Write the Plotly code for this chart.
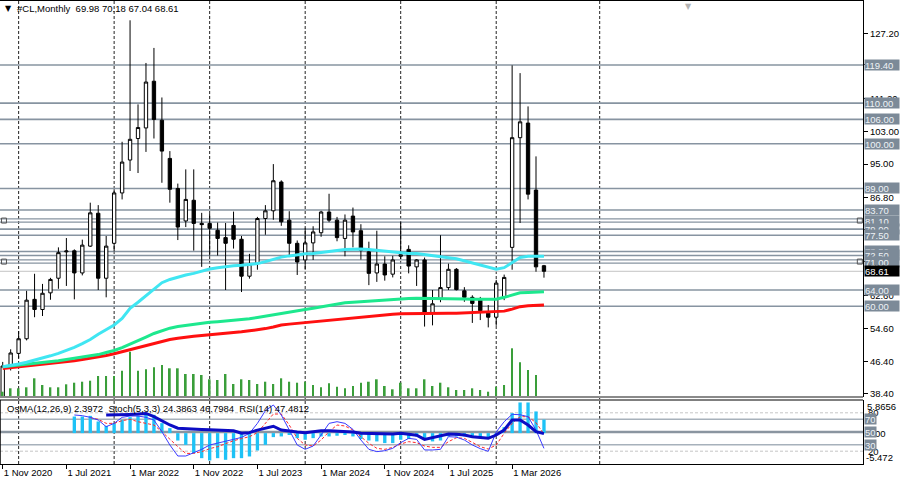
import plotly.graph_objects as go
import pandas as pd

# ---------------- data ----------------
MONTHS = pd.period_range("2020-11", "2026-07", freq="M").strftime("%Y-%m").tolist()

OPEN = [35.8, 45.3, 48.4, 52.0, 61.7, 59.2, 63.3, 66.9, 73.4, 73.65,
        68.2, 74.8, 82.9, 66.9, 75.5, 87.9, 96.0, 101.3, 103.9, 115.4,
        105.8, 96.4, 89.0, 81.0, 86.1, 80.4, 80.4, 78.7, 76.9, 79.9,
        76.5, 67.4, 70.5, 81.6, 83.5, 90.6, 81.2, 75.5, 71.4, 75.6,
        78.1, 83.2, 81.2, 76.7, 82.2, 78.6, 73.4, 68.2, 70.4, 67.9,
        72.3, 74.0, 69.7, 71.4, 58.4, 61.9, 64.6, 69.1, 63.8, 62.2,
        61.5, 58.3, 57.3, 62.3, 74.5, 101.5, 105.1, 88.6, 69.98]
HIGH = [46.3, 49.4, 53.9, 63.8, 68.0, 65.5, 67.0, 74.5, 76.8, 74.0,
        76.4, 85.5, 84.9, 77.3, 88.8, 100.5, 130.4, 109.7, 119.9, 123.6,
        111.4, 98.2, 90.2, 93.7, 93.7, 83.0, 82.7, 80.6, 80.5, 83.3,
        77.3, 72.9, 82.0, 84.9, 95.0, 91.0, 83.4, 76.2, 79.3, 79.7,
        83.5, 87.7, 82.0, 82.6, 84.3, 80.2, 75.9, 78.6, 72.3, 72.4,
        80.8, 75.0, 71.6, 72.0, 64.0, 77.5, 70.5, 69.4, 64.7, 62.7,
        62.3, 60.3, 66.5, 67.8, 119.3, 117.4, 109.2, 96.9, 70.18]
LOW = [33.6, 44.2, 47.2, 51.6, 57.3, 57.6, 61.6, 64.3, 65.0, 61.7,
       67.6, 74.6, 64.0, 62.2, 73.5, 86.3, 93.3, 92.8, 98.0, 101.3,
       90.4, 85.5, 76.3, 79.5, 73.7, 69.7, 72.5, 72.5, 64.0, 74.2,
       63.5, 66.8, 69.0, 77.6, 81.3, 79.8, 72.2, 67.7, 69.0, 71.4,
       77.1, 80.7, 76.0, 72.3, 74.5, 71.5, 65.2, 66.0, 66.3, 67.1,
       71.6, 68.1, 65.0, 55.0, 55.3, 61.0, 64.0, 63.9, 61.1, 55.9,
       56.6, 54.8, 55.2, 61.5, 69.0, 80.5, 86.3, 68.5, 67.04]
CLOSE = [45.3, 48.5, 52.0, 61.5, 59.2, 63.2, 66.6, 73.2, 73.6, 68.2,
         75.05, 83.0, 66.9, 74.8, 87.9, 95.5, 101.1, 104.0, 115.2, 106.0,
         98.2, 88.8, 79.5, 86.3, 80.4, 80.1, 79.2, 76.7, 75.5, 76.5,
         67.4, 70.4, 81.6, 83.5, 90.9, 80.8, 75.5, 70.9, 75.6, 78.3,
         83.2, 81.2, 76.9, 81.2, 78.3, 73.8, 68.1, 70.4, 67.7, 71.4,
         72.7, 69.9, 71.4, 58.3, 60.6, 64.6, 69.1, 64.1, 62.2, 60.7,
         58.9, 57.3, 65.7, 67.1, 101.5, 105.4, 87.6, 69.7, 68.61]

MA_CYAN = [45.1, 45.4, 45.8, 46.2, 46.7, 47.2, 47.8, 48.4, 49.1, 49.9,
           50.8, 51.8, 53.1, 54.3, 55.4, 57.0, 59.5, 61.0, 62.6, 64.4,
           65.8, 66.6, 67.2, 67.7, 68.1, 68.7, 69.15, 69.5, 69.8, 70.0,
           70.1, 70.3, 70.5, 71.0, 71.5, 72.1, 72.4, 72.7, 72.9, 73.0,
           73.3, 73.5, 73.75, 74.0, 74.1, 74.1, 74.0, 73.8, 73.5, 73.3,
           73.1, 73.0, 73.0, 72.7, 72.4, 72.2, 71.95, 71.7, 71.2, 70.7,
           70.1, 69.6, 69.1, 69.5, 70.7, 72.0, 72.3, 72.3, 72.3]
MA_GREEN = [45.1, 45.3, 45.5, 45.7, 45.9, 46.1, 46.3, 46.6, 46.9, 47.2,
            47.5, 47.8, 48.1, 48.6, 49.1, 49.8, 50.6, 51.5, 52.4, 53.3,
            54.0, 54.6, 55.0, 55.3, 55.6, 55.85, 56.05, 56.2, 56.35, 56.5,
            56.65, 56.95, 57.25, 57.6, 57.95, 58.3, 58.6, 58.9, 59.2, 59.5,
            59.85, 60.2, 60.5, 60.85, 61.0, 61.15, 61.3, 61.45, 61.6, 61.7,
            61.8, 61.9, 61.95, 61.95, 61.9, 61.9, 61.9, 61.85, 61.8, 61.75,
            61.7, 61.7, 61.75, 62.2, 62.8, 63.3, 63.4, 63.5, 63.55]
MA_RED = [44.7, 44.9, 45.1, 45.3, 45.5, 45.7, 45.9, 46.1, 46.3, 46.6,
          46.9, 47.2, 47.5, 47.9, 48.3, 48.8, 49.4, 49.9, 50.4, 50.9,
          51.4, 51.8, 52.1, 52.4, 52.6, 52.8, 52.95, 53.1, 53.3, 53.5,
          53.7, 53.95, 54.2, 54.5, 54.9, 55.4, 55.6, 55.8, 56.0, 56.2,
          56.4, 56.6, 56.8, 57.0, 57.2, 57.4, 57.6, 57.8, 57.95, 58.05,
          58.15, 58.2, 58.25, 58.25, 58.3, 58.3, 58.3, 58.3, 58.4, 58.5,
          58.6, 58.7, 58.75, 58.8, 59.3, 59.9, 60.1, 60.2, 60.3]

VOLUME = [212, 348, 348, 388, 748, 480, 388, 388, 508, 572,
          612, 652, 840, 840, 840, 1052, 1812, 1052, 1108, 1188,
          1280, 1148, 1148, 920, 920, 880, 708, 680, 920, 520,
          708, 680, 520, 612, 520, 748, 612, 572, 612, 480,
          388, 548, 412, 348, 440, 572, 612, 708, 440, 308,
          572, 348, 348, 708, 440, 572, 388, 280, 280, 348,
          280, 212, 412, 480, 1948, 1388, 1080, 880, 40]

OSMA = [None] * 9 + [
    2.94, 2.94, 3.06, 2.06, 1.29, 1.77, 2.36, 2.83, 3.06, 3.42,
    3.24, 1.77, 0.88, -1.31, -2.08, -3.56, -4.44, -4.85, -4.44, -4.73,
    -4.44, -4.44, -4.14, -3.08, -2.08, -0.71, -0.59, -0.30, -0.89, -1.18,
    -0.89, -0.59, -0.59, -0.47, -0.30, -0.59, -1.06, -1.31, -1.47, -1.77,
    -1.77, -1.18, -1.06, -0.59, -1.18, -1.47, -1.31, -0.59, -0.59, -0.59,
    -0.59, -0.89, -0.89, -0.30, 1.06, 3.54, 5.43, 5.43, 3.84, 2.3972]
STOCH_K = [None] * 9 + [
    76.6, 75.5, 72.9, 68.7, 58.3, 63.5, 72.9, 75.0, 75.0, 72.9,
    68.7, 50.5, 29.7, 12.5, 12.5, 17.7, 22.9, 29.7, 32.3, 34.9,
    38.5, 41.6, 47.9, 63.5, 83.3, 92.2, 76.6, 53.1, 29.7, 22.9,
    28.1, 45.3, 63.5, 66.1, 63.5, 54.1, 37.5, 22.9, 19.3, 20.8,
    24.5, 33.3, 40.1, 38.5, 21.9, 21.9, 22.9, 42.7, 42.0, 37.5,
    29.7, 24.0, 19.8, 50.0, 66.1, 77.6, 77.0, 73.9, 53.1, 24.3863]
STOCH_D = [None] * 11 + [
    72.4, 69.8, 63.5, 63.5, 67.7, 69.8, 66.1, 63.5, 60.9, 50.5,
    38.5, 27.1, 16.6, 16.6, 19.3, 24.0, 27.1, 32.3, 36.4, 39.6,
    42.7, 49.0, 63.5, 78.1, 78.1, 60.9, 40.1, 29.7, 28.1, 37.5,
    50.5, 60.9, 59.4, 53.1, 42.7, 32.3, 24.5, 22.9, 26.0, 31.2,
    34.9, 33.3, 28.1, 26.0, 26.0, 34.9, 41.1, 40.0, 33.8, 27.0,
    23.4, 29.7, 47.9, 63.5, 73.9, 73.9, 64.6, 46.7984]
RSI = [None] * 13 + [
    76.6, 76.6, 77.0, 77.5, 78.0, 79.0, 74.0, 67.0, 61.0, 56.0,
    55.0, 54.5, 54.0, 53.5, 53.0, 52.5, 52.0, 48.0, 49.0, 53.0,
    55.5, 59.0, 53.0, 51.0, 50.0, 49.0, 51.0, 52.0, 52.0, 51.5,
    51.0, 50.0, 48.0, 47.5, 47.0, 46.5, 47.0, 48.0, 46.5, 45.0,
    38.5, 41.5, 45.0, 47.0, 46.3, 45.3, 42.7, 41.1, 40.1, 45.3,
    53.1, 68.7, 68.7, 60.9, 50.5, 47.4812]

PRICE_TICKS = [127.2, 119.4, 111.2, 103.0, 95.0, 86.8, 79.0, 71.0, 62.6, 54.6, 46.4, 38.4]
X_TICK_MONTHS = ["2020-11", "2021-07", "2022-03", "2022-11", "2023-07",
                 "2024-03", "2024-11", "2025-07", "2026-03"]
X_TICK_LABELS = ["1 Nov 2020", "1 Jul 2021", "1 Mar 2022", "1 Nov 2022", "1 Jul 2023",
                 "1 Mar 2024", "1 Nov 2024", "1 Jul 2025", "1 Mar 2026"]

LEVELS = [119.4, 110.0, 106.0, 100.0, 89.0, 83.7, 81.1, 79.0, 77.5, 73.5, 72.5, 71.0, 64.0, 60.0]
SELECTED_LEVELS = [81.1, 71.0]
OSC_LEVELS = [80, 70, 50, 30, 20]

# ---------------- layout constants ----------------
X = list(range(len(MONTHS)))
X_RANGE = [-0.34, 108.08]
PRICE_RANGE = [37.66, 135.40]
VOL_RANGE = [0, 15880]
OSMA_RANGE = [-5.472, 5.8656]
DOM_MAIN = [67 / 464, 1.0]
DOM_SUB = [0.0, 64 / 464]
FONT = "Liberation Sans, Arial, sans-serif"
FS = 9.5
LINE_COL = "#8794a1"
BOX_COL = "#7c8a98"

fig = go.Figure()

# volumes (main window overlay)
fig.add_trace(go.Bar(x=X, y=VOLUME, yaxis="y2", width=0.22,
                     marker=dict(color="#3a9e3a", line=dict(width=0)), hoverinfo="skip"))
# candles
fig.add_trace(go.Candlestick(
    x=X, open=OPEN, high=HIGH, low=LOW, close=CLOSE, whiskerwidth=0,
    increasing=dict(line=dict(color="black", width=1), fillcolor="white"),
    decreasing=dict(line=dict(color="black", width=1), fillcolor="black"),
    hoverinfo="skip"))
# moving averages
for vals, col in [(MA_RED, "#ff1010"), (MA_GREEN, "#1de88e"), (MA_CYAN, "#40e6f2")]:
    fig.add_trace(go.Scatter(x=X, y=vals, mode="lines", line=dict(color=col, width=3),
                             hoverinfo="skip"))

# selected-line handles
for lv in SELECTED_LEVELS:
    fig.add_trace(go.Scatter(x=[X_RANGE[0] + 0.5, X_RANGE[1] - 0.4], y=[lv, lv], mode="markers",
                             marker=dict(symbol="square-open", size=5, color="#555555",
                                         line=dict(width=1)),
                             cliponaxis=False, hoverinfo="skip"))

# lower window
fig.add_trace(go.Bar(x=X, y=OSMA, yaxis="y3", width=0.42,
                     marker=dict(color="#1ec2f6", line=dict(width=0)), hoverinfo="skip"))
fig.add_trace(go.Scatter(x=X, y=STOCH_D, yaxis="y4", mode="lines",
                         line=dict(color="#ff2a2a", width=1, dash="3px,2px"), hoverinfo="skip"))
fig.add_trace(go.Scatter(x=X, y=STOCH_K, yaxis="y4", mode="lines",
                         line=dict(color="#3a3aff", width=1), hoverinfo="skip"))
fig.add_trace(go.Scatter(x=X, y=RSI, yaxis="y4", mode="lines",
                         line=dict(color="#0c0cc4", width=3), hoverinfo="skip"))

shapes = []
# vertical period separators (January of each year + next one)
grid_x = [i for i, m in enumerate(MONTHS) if m.endswith("-01")] + [75]
for gx in grid_x:
    shapes.append(dict(type="line", xref="x", yref="paper", x0=gx, x1=gx, y0=0, y1=1,
                       line=dict(color="#222222", width=1, dash="3px,2px"), layer="below"))
# horizontal price levels
for lv in LEVELS:
    if lv in SELECTED_LEVELS:
        for d in (-0.4, 0.4):
            shapes.append(dict(type="line", xref="paper", yref="y", x0=0, x1=1, y0=lv + d, y1=lv + d,
                               line=dict(color=LINE_COL, width=1.2), layer="below"))
    else:
        shapes.append(dict(type="line", xref="paper", yref="y", x0=0, x1=1, y0=lv, y1=lv,
                           line=dict(color=LINE_COL, width=1.6), layer="below"))
# current price line
shapes.append(dict(type="line", xref="paper", yref="y", x0=0, x1=1, y0=CLOSE[-1], y1=CLOSE[-1],
                   line=dict(color="#c4c4c4", width=1), layer="below"))
# oscillator levels
for lv in OSC_LEVELS:
    if lv in (80, 20):
        ln = dict(color="#c6c6c6", width=1, dash="3px,2px")
    elif lv == 50:
        ln = dict(color="#8a95a0", width=2.5)
    else:
        ln = dict(color="#a7b1bb", width=1.5)
    shapes.append(dict(type="line", xref="paper", yref="y4", x0=0, x1=1, y0=lv, y1=lv,
                       line=ln, layer="below"))
# borders
shapes += [
    dict(type="line", xref="paper", yref="paper", x0=0, x1=1, y0=1, y1=1,
         line=dict(color="black", width=2)),
    dict(type="line", xref="paper", yref="paper", x0=0, x1=1, y0=DOM_MAIN[0], y1=DOM_MAIN[0],
         line=dict(color="#8a8a8a", width=2)),
    dict(type="line", xref="paper", yref="paper", x0=0, x1=1, y0=DOM_SUB[1], y1=DOM_SUB[1],
         line=dict(color="black", width=1)),
    dict(type="line", xref="paper", yref="paper", x0=0, x1=0, y0=DOM_SUB[0], y1=DOM_SUB[1],
         line=dict(color="black", width=1.5)),
]

ann = []
# price level labels
for lv in LEVELS:
    ann.append(dict(xref="paper", x=1, xanchor="left", xshift=1, yref="y", y=lv,
                    text=f"{lv:.2f}", showarrow=False, bgcolor=BOX_COL, borderpad=0,
                    width=34, height=10, align="left",
                    font=dict(color="#eef2f6", size=FS, family=FONT)))
ann.append(dict(xref="paper", x=1, xanchor="left", xshift=1, yref="y", y=CLOSE[-1],
                text=f"{CLOSE[-1]:.2f}", showarrow=False, bgcolor="black", borderpad=0,
                width=34, height=10, align="left",
                font=dict(color="white", size=FS, family=FONT)))
# lower window scale texts
for lv in (80, 20):
    ann.append(dict(xref="paper", x=1, xanchor="left", xshift=3, yref="y4", y=lv,
                    text=str(lv), showarrow=False, font=dict(size=FS, family=FONT)))
ann.append(dict(xref="paper", x=1, xanchor="left", xshift=2, yref="y3", y=0,
                text="0.00", showarrow=False, font=dict(size=FS, family=FONT)))
ann.append(dict(xref="paper", x=1, xanchor="left", xshift=2, yref="y3", y=OSMA_RANGE[1],
                yanchor="top", yshift=1, text=f"{OSMA_RANGE[1]:.4f}", showarrow=False,
                font=dict(size=FS, family=FONT)))
ann.append(dict(xref="paper", x=1, xanchor="left", xshift=1, yref="y3", y=OSMA_RANGE[0],
                yanchor="bottom", yshift=-1, text=f"{OSMA_RANGE[0]:.3f}", showarrow=False,
                font=dict(size=FS, family=FONT)))
for lv in (70, 50, 30):
    ann.append(dict(xref="paper", x=1, xanchor="left", xshift=1, yref="y4", y=lv,
                    text=str(lv), showarrow=False, bgcolor=BOX_COL, borderpad=0, height=10,
                    font=dict(color="#eef2f6", size=FS, family=FONT)))
# headers
ann.append(dict(xref="paper", x=0, xanchor="center", xshift=8, yref="paper", y=1,
                yanchor="middle", yshift=-8, text="▼", showarrow=False,
                font=dict(size=8, color="black", family="DejaVu Sans")))
ann.append(dict(xref="paper", x=0, xanchor="left", xshift=15, yref="paper", y=1,
                yanchor="middle", yshift=-8, showarrow=False,
                text=(f"#CL,Monthly\u00a0\u00a0{OPEN[-1]:.2f} {HIGH[-1]:.2f} "
                      f"{LOW[-1]:.2f} {CLOSE[-1]:.2f}"),
                font=dict(size=FS, family=FONT, color="black")))
ann.append(dict(xref="paper", x=0, xanchor="left", xshift=5, yref="paper", y=DOM_SUB[1],
                yanchor="middle", yshift=-8, showarrow=False,
                text=(f"OsMA(12,26,9) {OSMA[-1]:.4f}\u00a0\u00a0Stoch(5,3,3) {STOCH_K[-1]:.4f} "
                      f"{STOCH_D[-1]:.4f}\u00a0\u00a0RSI(14) {RSI[-1]:.4f}"),
                font=dict(size=FS, family=FONT, color="black")))
# chart-shift marker
ann.append(dict(xref="paper", x=688 / 863, xanchor="center", yref="paper", y=1,
                yanchor="top", yshift=0, text="▼", showarrow=False,
                font=dict(size=8, color="#b4b4b4", family="DejaVu Sans")))

tick_x = [MONTHS.index(m) for m in X_TICK_MONTHS]
# tick texts that sit exactly under a level label box are not visible in the reference
price_ticktext = ["" if any(abs(v - lv) < 0.05 for lv in LEVELS) else f"{v:.2f}" for v in PRICE_TICKS]

fig.update_layout(
    width=900, height=484, margin=dict(l=0, r=37, t=0, b=20),
    paper_bgcolor="white", plot_bgcolor="white",
    showlegend=False, hovermode=False, barmode="overlay", boxgap=0.4,
    font=dict(family=FONT, size=FS, color="black"),
    xaxis=dict(domain=[0, 1], anchor="y3", range=X_RANGE, tickvals=tick_x, ticktext=X_TICK_LABELS,
               ticks="outside", ticklen=4, tickcolor="black", showline=True, linecolor="black",
               linewidth=1, showgrid=False, zeroline=False, ticklabelposition="outside right",
               rangeslider=dict(visible=False), tickfont=dict(size=FS, family=FONT)),
    yaxis=dict(domain=DOM_MAIN, anchor="x", side="right", range=PRICE_RANGE,
               tickvals=PRICE_TICKS, ticktext=price_ticktext,
               ticks="outside", ticklen=4, tickcolor="black", showline=True, linecolor="black",
               linewidth=1, showgrid=False, zeroline=False, tickfont=dict(size=FS, family=FONT)),
    yaxis2=dict(overlaying="y", range=VOL_RANGE, visible=False),
    yaxis3=dict(domain=DOM_SUB, anchor="x", side="right", range=OSMA_RANGE, showline=True,
                linecolor="black", linewidth=1, showgrid=False, zeroline=False,
                showticklabels=False, ticks=""),
    yaxis4=dict(overlaying="y3", range=[0, 100], visible=False),
    shapes=shapes, annotations=ann,
)

fig.write_html("out.html")
